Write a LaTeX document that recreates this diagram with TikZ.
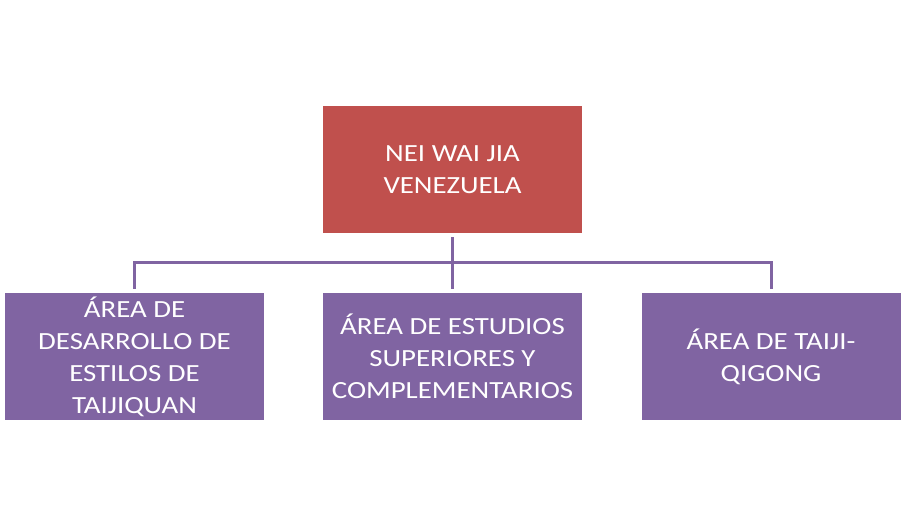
\documentclass[tikz,border=0pt]{standalone}
\usepackage{fontspec}
\setmainfont[FakeStretch=1.17]{Carlito}
\definecolor{jefe}{HTML}{C0504D}
\definecolor{area}{HTML}{8064A2}

\begin{document}
\begin{tikzpicture}[x=0.75pt,y=-0.75pt,
    caja/.style={minimum width=194.25pt,minimum height=95.25pt,inner sep=0pt,
      align=center,text=white,font=\fontsize{18.5}{24}\selectfont},
    conn/.style={draw=area,line width=2.25pt,shorten <=3pt,shorten >=3pt}]
      \useasboundingbox (0,0) rectangle (906,527);

      \node[caja,fill=jefe] (top) at (452.5,169.5) {NEI WAI JIA\\VENEZUELA};
      \node[caja,fill=area] (izq) at (134.5,356.5) {ÁREA DE\\DESARROLLO DE\\ESTILOS DE\\TAIJIQUAN};
      \node[caja,fill=area] (med) at (452.5,356.5) {ÁREA DE ESTUDIOS\\SUPERIORES Y\\COMPLEMENTARIOS};
      \node[caja,fill=area] (der) at (771,356.5) {ÁREA DE TAIJI-\\QIGONG};

      \coordinate (bus) at (452.5,263);
      \draw[conn] (top) -- (med);
      \draw[conn] (izq.north) -- (izq.north |- bus) -- (der.north |- bus) -- (der.north);
    \end{tikzpicture}
\end{document}
